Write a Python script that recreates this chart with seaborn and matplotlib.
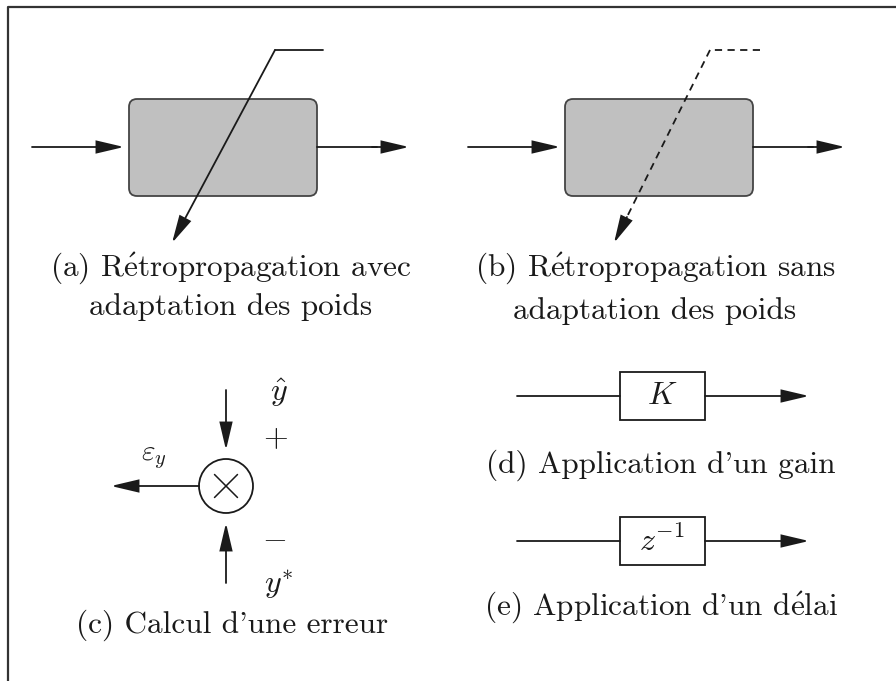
import matplotlib
matplotlib.use("Agg")
import matplotlib.pyplot as plt
import seaborn as sns
from matplotlib.patches import FancyArrowPatch, FancyBboxPatch, Rectangle, Circle

sns.set_theme(style="white")
plt.rcParams['font.family'] = ['cmr10', 'DejaVu Serif']
plt.rcParams['mathtext.fontset'] = 'cm'
plt.rcParams['axes.unicode_minus'] = False

INK = '#1a1a1a'
BOX_FILL = '#c0c0c0'
BOX_EDGE = '#444444'

# panel captions
captions_ab = [
    ["(a) R$\\acute{\\rm e}$tropropagation avec", "adaptation des poids"],
    ["(b) R$\\acute{\\rm e}$tropropagation sans", "adaptation des poids"],
]
caption_c = "(c) Calcul d'une erreur"
caption_d = "(d) Application d'un gain"
caption_e = "(e) Application d'un d$\\acute{\\rm e}$lai"
block_labels = [r'$K$', r'$z^{-1}$']

# layout in pixels (x to the right, y downwards)
ab_origin_x = [0, 436]          # horizontal offset of panel (a) and (b)
ab_dashed = [False, True]
ab_caption_x = [231, 655]
ab_caption_y = [268, 307]

de_rows_y = [396, 541]
de_caption_y = [465, 607]

CAP_SIZE = 22.5


def arrow(ax, p0, p1, lw=1.3):
    a = FancyArrowPatch(p0, p1, arrowstyle='-|>,head_length=17,head_width=4',
                        mutation_scale=1, shrinkA=0, shrinkB=0,
                        color=INK, lw=lw, joinstyle='miter')
    ax.add_patch(a)


fig = plt.figure(figsize=(8.96, 6.81), dpi=100)
ax = fig.add_axes([0, 0, 1, 1])
ax.set_xlim(0, 896)
ax.set_ylim(681, 0)
ax.axis('off')

# outer frame (only left and top edges are inside the picture)
ax.plot([8, 8, 900], [690, 7, 7], color='#333333', lw=1.6, solid_capstyle='butt')

# panels (a) and (b)
for k in range(2):
    dx = ab_origin_x[k]
    x0, x1, y0, y1, r = 129 + dx, 317 + dx, 99, 196, 8
    box = FancyBboxPatch((x0 + r, y0 + r), (x1 - x0) - 2 * r, (y1 - y0) - 2 * r,
                         boxstyle=f'round,pad={r}', fc=BOX_FILL, ec=BOX_EDGE, lw=1.3, zorder=1)
    ax.add_patch(box)
    arrow(ax, (32 + dx, 147), (124 + dx, 147))
    ax.plot([x1, x1 + 60], [147, 147], color=INK, lw=1.3)
    arrow(ax, (x1 + 55, 147), (409 + dx, 147))
    top = (275 + dx - 1 * k, 50)
    tip = (172 + dx + 6 * k, 243)
    if not ab_dashed[k]:
        ax.plot([top[0] + 48, top[0]], [50, 50], color=INK, lw=1.3, zorder=3)
        arrow(ax, top, tip)
    else:
        ax.plot([top[0] + 50, top[0]], [50, 50], color=INK, lw=1.3, ls=(0, (4, 3)), zorder=3)
        fx = (tip[0] - top[0]) / (tip[1] - top[1])
        yb = tip[1] - 22
        ax.plot([top[0], top[0] + fx * (yb - top[1])], [top[1], yb],
                color=INK, lw=1.3, ls=(0, (4, 3)), zorder=3)
        arrow(ax, (top[0] + fx * (yb - 4 - top[1]), yb - 4), tip)
    for line, yy in zip(captions_ab[k], ab_caption_y):
        ax.text(ab_caption_x[k], yy + 4 * k * (yy > 280), line, ha='center', va='center',
                fontsize=CAP_SIZE, color=INK)

# panel (c): comparator
cx, cy, cr = 226, 486, 27
ax.add_patch(Circle((cx, cy), cr, fc='white', ec=INK, lw=1.3))
d = 11.5
ax.plot([cx - d, cx + d], [cy - d, cy + d], color=INK, lw=1.1)
ax.plot([cx - d, cx + d], [cy + d, cy - d], color=INK, lw=1.1)
arrow(ax, (cx, 390), (cx, 450))
arrow(ax, (cx, 583), (cx, 523))
arrow(ax, (cx - cr, cy), (111, cy))
ax.text(279, 393, r'$\hat{y}$', ha='center', va='center', fontsize=23, color=INK)
ax.text(275, 438, r'$+$', ha='center', va='center', fontsize=23, color=INK)
ax.text(274, 538, r'$-$', ha='center', va='center', fontsize=23, color=INK)
ax.text(279, 585, r'$y^{*}$', ha='center', va='center', fontsize=23, color=INK)
ax.text(154, 458, r'$\varepsilon_y$', ha='center', va='center', fontsize=21, color=INK)
ax.text(232, 625, caption_c, ha='center', va='center', fontsize=CAP_SIZE, color=INK)

# panels (d) and (e): gain and delay blocks
for yy, lab, cap, capy in zip(de_rows_y, block_labels, [caption_d, caption_e], de_caption_y):
    ax.plot([517, 620], [yy, yy], color=INK, lw=1.3)
    ax.add_patch(Rectangle((620, yy - 24), 85, 48, fc='white', ec=INK, lw=1.3))
    arrow(ax, (705, yy), (809, yy))
    ax.text(662, yy, lab, ha='center', va='center', fontsize=23, color=INK)
    ax.text(661, capy, cap, ha='center', va='center', fontsize=CAP_SIZE, color=INK)

fig.savefig('out.png', dpi=100)
